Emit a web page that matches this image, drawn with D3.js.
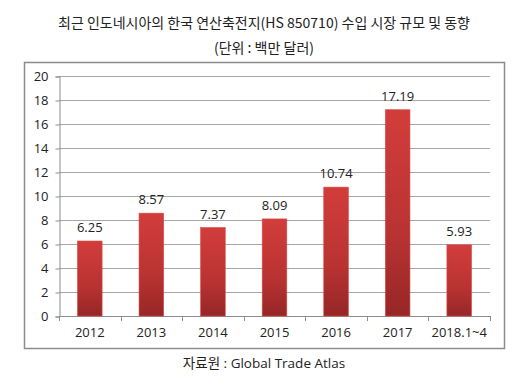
<!DOCTYPE html>
<html>
<head>
<meta charset="utf-8">
<script src="https://cdn.jsdelivr.net/npm/d3@7"></script>
<style>
  body { margin: 0; background: #fff; }
  text { font-family: "Open Sans", "Noto Sans CJK KR", sans-serif; fill: #222; }
</style>
</head>
<body>
<script>
// chart values
const categories = ["2012", "2013", "2014", "2015", "2016", "2017", "2018.1~4"];
const values = [6.25, 8.57, 7.37, 8.09, 10.74, 17.19, 5.93];
const yTicks = [0, 2, 4, 6, 8, 10, 12, 14, 16, 18, 20];

const W = 522, H = 382;
const svg = d3.select("body").append("svg")
  .attr("width", W)
  .attr("height", H);

// titles
svg.append("text")
  .attr("x", 264).attr("y", 28)
  .attr("text-anchor", "middle")
  .style("font-family", "'Noto Sans CJK KR', sans-serif")
  .style("font-size", "14px")
  .text("최근 인도네시아의 한국 연산축전지(HS 850710) 수입 시장 규모 및 동향");

svg.append("text")
  .attr("x", 264).attr("y", 53)
  .attr("text-anchor", "middle")
  .style("font-family", "'Noto Sans CJK KR', sans-serif")
  .style("font-size", "14px")
  .text("(단위 : 백만 달러)");

// chart frame
svg.append("rect")
  .attr("x", 24.5).attr("y", 62.5)
  .attr("width", 480).attr("height", 286)
  .attr("fill", "#fff")
  .attr("stroke", "#8c8c8c")
  .attr("stroke-width", 1.5);

const x = d3.scaleBand()
  .domain(categories)
  .range([59, 490])
  .paddingInner(0.6)
  .paddingOuter(0.3);

const y = d3.scaleLinear()
  .domain([0, 20])
  .range([316, 76]);

// gradient for bars
const grad = svg.append("defs").append("linearGradient")
  .attr("id", "barGrad")
  .attr("x1", 0).attr("y1", 0).attr("x2", 0).attr("y2", 1);
grad.append("stop").attr("offset", "0%").attr("stop-color", "#d23d3b");
grad.append("stop").attr("offset", "60%").attr("stop-color", "#b93332");
grad.append("stop").attr("offset", "100%").attr("stop-color", "#972626");

// gridlines
svg.append("g")
  .selectAll("line")
  .data(yTicks.filter(d => d > 0))
  .join("line")
  .attr("x1", 59).attr("x2", 490)
  .attr("y1", d => y(d) + 0.5).attr("y2", d => y(d) + 0.5)
  .attr("stroke", "#a6a6a6")
  .attr("stroke-width", 1);

// y axis
const yAxis = svg.append("g")
  .attr("transform", "translate(59.5,0.5)")
  .call(d3.axisLeft(y).tickValues(yTicks).tickSize(4).tickPadding(7));
yAxis.selectAll("line, path").attr("stroke", "#8c8c8c");
yAxis.selectAll("text").style("font-size", "13px").style("fill", "#222");

// x axis
const xTickPos = d3.range(categories.length + 1).map(i => 59 + i * x.step());
const xAxisG = svg.append("g");
xAxisG.append("line")
  .attr("x1", 59).attr("x2", 490)
  .attr("y1", y(0) + 0.5).attr("y2", y(0) + 0.5)
  .attr("stroke", "#8c8c8c");
xAxisG.selectAll("line.tk")
  .data(xTickPos)
  .join("line")
  .attr("class", "tk")
  .attr("x1", d => Math.round(d) + 0.5).attr("x2", d => Math.round(d) + 0.5)
  .attr("y1", y(0)).attr("y2", y(0) + 5)
  .attr("stroke", "#8c8c8c");
xAxisG.selectAll("text")
  .data(categories)
  .join("text")
  .attr("x", d => x(d) + x.bandwidth() / 2)
  .attr("y", 337)
  .attr("text-anchor", "middle")
  .style("font-size", "13px")
  .text(d => d);

// bars
svg.append("g")
  .selectAll("rect")
  .data(values)
  .join("rect")
  .attr("x", (d, i) => x(categories[i]))
  .attr("y", d => y(d))
  .attr("width", x.bandwidth())
  .attr("height", d => y(0) - y(d))
  .attr("fill", "url(#barGrad)")
  .attr("stroke", "#d94a48")
  .attr("stroke-width", 0.6);

// value labels
svg.append("g")
  .selectAll("text")
  .data(values)
  .join("text")
  .attr("x", (d, i) => x(categories[i]) + x.bandwidth() / 2)
  .attr("y", d => y(d) - 9)
  .attr("text-anchor", "middle")
  .style("font-size", "13px")
  .text(d => d.toFixed(2));

// source
svg.append("text")
  .attr("x", 264).attr("y", 368)
  .attr("text-anchor", "middle")
  .style("font-size", "13.5px")
  .text("자료원 : Global Trade Atlas");
</script>
</body>
</html>
